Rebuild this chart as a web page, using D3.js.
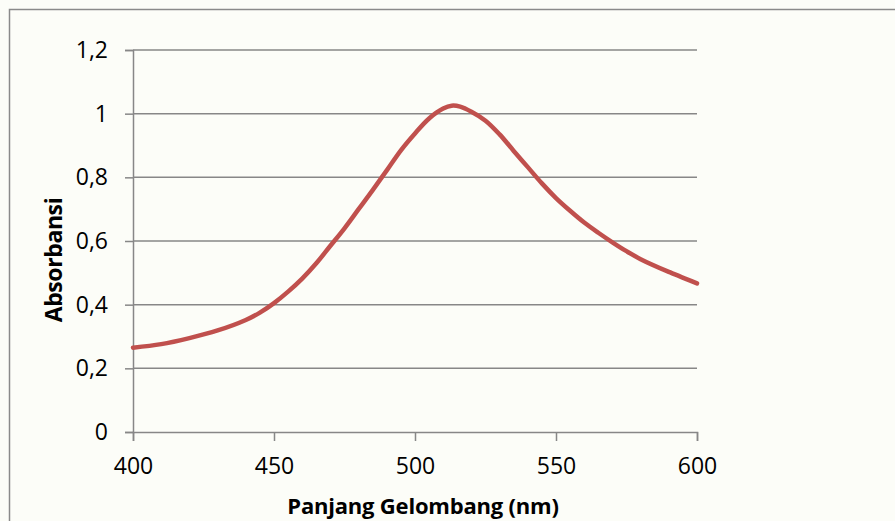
<!DOCTYPE html>
<html>
<head>
<meta charset="utf-8">
<script src="https://cdn.jsdelivr.net/npm/d3@7"></script>
<style>
  html, body { margin: 0; padding: 0; background: #fcfdf8; }
  svg { display: block; }
  text { font-family: "Open Sans", "Noto Sans", sans-serif; fill: #000; }
</style>
</head>
<body>
<svg id="chart" width="895" height="521"></svg>
<script>
const wavelengths = [400, 410, 420, 430, 440, 445, 450, 455, 460, 465, 470, 475, 480, 485, 490, 495, 500, 505, 510, 513, 516, 520, 525, 530, 535, 540, 545, 550, 555, 560, 565, 570, 575, 580, 590, 600];
const absorbance  = [0.265, 0.276, 0.295, 0.319, 0.352, 0.375, 0.405, 0.441, 0.482, 0.530, 0.585, 0.640, 0.700, 0.760, 0.822, 0.885, 0.938, 0.985, 1.016, 1.025, 1.022, 1.006, 0.978, 0.935, 0.883, 0.832, 0.781, 0.735, 0.695, 0.658, 0.626, 0.596, 0.568, 0.543, 0.503, 0.467];
const xTicks = [400, 450, 500, 550, 600];
const yTicks = [0, 0.2, 0.4, 0.6, 0.8, 1.0, 1.2];
const xTitle = "Panjang Gelombang (nm)";
const yTitle = "Absorbansi";

(function () {
const svg = d3.select("#chart");
const pL = 133, pR = 697, pT = 50, pB = 432;

// outer frame
svg.append("rect").attr("x", 9.5).attr("y", 9.5).attr("width", 900).attr("height", 530)
  .attr("fill", "#fcfdf8").attr("stroke", "#8a8a8a").attr("stroke-width", 1.5);

const x = d3.scaleLinear().domain([400, 600]).range([pL, pR]);
const y = d3.scaleLinear().domain([0, 1.2]).range([pB, pT]);

const fmt = d => String(+d.toFixed(1)).replace(".", ",");

// gridlines
svg.append("g").selectAll("line").data(yTicks.filter(d => d > 0)).join("line")
  .attr("x1", pL).attr("x2", pR)
  .attr("y1", d => y(d)).attr("y2", d => y(d))
  .attr("stroke", "#878787").attr("stroke-width", 1.5);

// y axis
const yAxis = svg.append("g").attr("transform", `translate(${pL},0)`)
  .call(d3.axisLeft(y).tickValues(yTicks).tickFormat(fmt).tickSize(8).tickPadding(17));
yAxis.select(".domain").attr("stroke", "#878787").attr("stroke-width", 1.5);
yAxis.selectAll(".tick line").attr("stroke", "#878787").attr("stroke-width", 1.5);
yAxis.selectAll(".tick text").attr("font-size", 23).attr("font-family", "'Open Sans', sans-serif").attr("fill", "#000");

// x axis
const xAxis = svg.append("g").attr("transform", `translate(0,${pB})`)
  .call(d3.axisBottom(x).tickValues(xTicks).tickFormat(d3.format("d")).tickSize(9).tickPadding(17));
xAxis.select(".domain").attr("stroke", "#878787").attr("stroke-width", 1.5);
xAxis.selectAll(".tick line").attr("stroke", "#878787").attr("stroke-width", 1.5);
xAxis.selectAll(".tick text").attr("font-size", 23).attr("font-family", "'Open Sans', sans-serif").attr("fill", "#000");

// curve
const line = d3.line().x((d, i) => x(wavelengths[i])).y(d => y(d)).curve(d3.curveCatmullRom.alpha(0.5));
svg.append("path").datum(absorbance).attr("d", line)
  .attr("fill", "none").attr("stroke", "#c0504d").attr("stroke-width", 4.5)
  .attr("stroke-linecap", "round").attr("stroke-linejoin", "round");

// titles
svg.append("text").attr("x", 423).attr("y", 514).attr("text-anchor", "middle")
  .attr("font-size", 22).attr("font-weight", "bold").attr("letter-spacing", -0.2).text(xTitle);
svg.append("text").attr("transform", "translate(62,260) rotate(-90)").attr("text-anchor", "middle")
  .attr("font-size", 23).attr("font-weight", "bold").attr("letter-spacing", -0.4).text(yTitle);
})();
</script>
</body>
</html>
